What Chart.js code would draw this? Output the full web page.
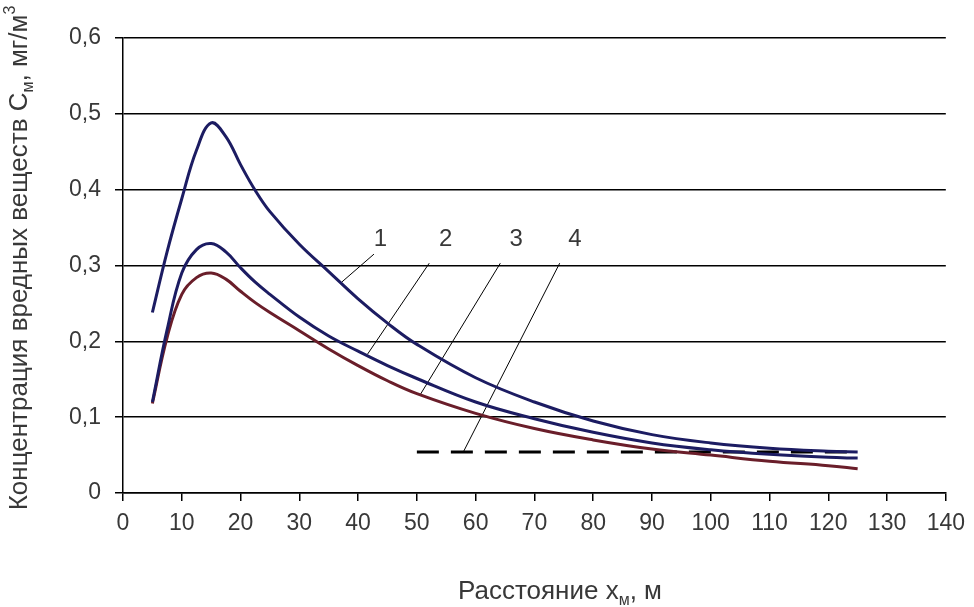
<!DOCTYPE html>
<html>
<head>
<meta charset="utf-8">
<script src="https://cdn.jsdelivr.net/npm/chart.js@4/dist/chart.umd.min.js"></script>
<style>
  html, body { margin: 0; padding: 0; background: #ffffff; }
  #wrap { width: 974px; height: 607px; }
</style>
</head>
<body>
<div id="wrap"><canvas id="chart" width="974" height="607"></canvas></div>
<script>
// Distance from the source, m
const distances = [5, 7.5, 10, 12.5, 15, 17.5, 20, 22.5, 25, 30, 35, 40, 45, 50, 60, 70, 80, 90, 100, 110, 120, 125];
// Concentration curves, mg/m3
const curve1 = [0.238, 0.318, 0.388, 0.452, 0.488, 0.470, 0.433, 0.399, 0.371, 0.328, 0.292, 0.256, 0.224, 0.196, 0.152, 0.120, 0.095, 0.077, 0.066, 0.059, 0.055, 0.054];
const curve2 = [0.120, 0.215, 0.290, 0.321, 0.329, 0.318, 0.297, 0.278, 0.262, 0.232, 0.207, 0.187, 0.168, 0.151, 0.120, 0.098, 0.080, 0.066, 0.057, 0.051, 0.047, 0.046];
const curve3 = [0.118, 0.205, 0.262, 0.284, 0.290, 0.282, 0.266, 0.251, 0.238, 0.214, 0.190, 0.168, 0.148, 0.131, 0.105, 0.085, 0.070, 0.058, 0.050, 0.042, 0.036, 0.032];
// Limit level (line 4)
const limitLevel = 0.054;
const limitRange = [50, 125];

// Axis ticks
const xTicks = [0, 10, 20, 30, 40, 50, 60, 70, 80, 90, 100, 110, 120, 130, 140];
const yTicks = [0, 0.1, 0.2, 0.3, 0.4, 0.5, 0.6];

// Curve callouts: label text, label anchor, leader line start and end (data units)
const calloutText = ['1', '2', '3', '4'];
const calloutX = [43.8, 54.9, 66.9, 76.9];
const calloutY = [0.334, 0.334, 0.334, 0.334];
const leaderFromX = [42.7, 52.1, 64.2, 74.3];
const leaderFromY = [0.315, 0.303, 0.303, 0.303];
const leaderToX = [37.2, 41.6, 50.6, 57.9];
const leaderToY = [0.278, 0.183, 0.130, 0.054];

const toPoints = (xs, ys) => xs.map((x, i) => ({ x: x, y: ys[i] }));

const navy = '#1c1c62';
const maroon = '#6a1e2a';
const FONT = '"Liberation Sans", Arial, sans-serif';
const TEXT = '#383838';

const datasets = [
  { data: toPoints(distances, curve1), borderColor: navy, borderWidth: 3, tension: 0.4 },
  { data: toPoints(distances, curve2), borderColor: navy, borderWidth: 3, tension: 0.4 },
  { data: toPoints(distances, curve3), borderColor: maroon, borderWidth: 3, tension: 0.4 },
  { data: limitRange.map(x => ({ x: x, y: limitLevel })), borderColor: '#000', borderWidth: 3, borderDash: [22, 12] }
];
calloutText.forEach((t, i) => {
  datasets.push({
    data: [{ x: leaderFromX[i], y: leaderFromY[i] }, { x: leaderToX[i], y: leaderToY[i] }],
    borderColor: '#000', borderWidth: 1
  });
});

// Draws text made of runs, with subscript/superscript runs, centred at (cx, cy)
function drawRuns(ctx, runs, cx, cy, size) {
  const small = Math.round(size * 0.62);
  let total = 0;
  runs.forEach(r => {
    ctx.font = (r.sub || r.sup ? small : size) + 'px ' + FONT;
    r.w = ctx.measureText(r.t).width;
    total += r.w;
  });
  let x = cx - total / 2;
  ctx.textAlign = 'left';
  ctx.textBaseline = 'middle';
  runs.forEach(r => {
    ctx.font = (r.sub || r.sup ? small : size) + 'px ' + FONT;
    const dy = r.sub ? size * 0.32 : (r.sup ? -size * 0.38 : 0);
    ctx.fillText(r.t, x, cy + dy);
    x += r.w;
  });
}

const textPlugin = {
  id: 'chartText',
  afterDraw(chart) {
    const ctx = chart.ctx;
    const xs = chart.scales.x, ys = chart.scales.y;
    ctx.save();
    ctx.fillStyle = TEXT;
    // callout numbers
    ctx.font = '24px ' + FONT;
    ctx.textAlign = 'center';
    ctx.textBaseline = 'middle';
    calloutText.forEach((t, i) => {
      ctx.fillText(t, xs.getPixelForValue(calloutX[i]), ys.getPixelForValue(calloutY[i]));
    });
    // x axis title
    drawRuns(ctx, [{ t: 'Расстояние x' }, { t: 'м', sub: true }, { t: ', м' }], 560, 592, 26);
    // y axis title
    ctx.translate(20, 258);
    ctx.rotate(-Math.PI / 2);
    drawRuns(ctx, [{ t: 'Концентрация вредных веществ С' }, { t: 'м', sub: true }, { t: ', мг/м' }, { t: '3', sup: true }], 0, 0, 26);
    ctx.restore();
  }
};

new Chart(document.getElementById('chart'), {
  type: 'line',
  data: { datasets: datasets },
  options: {
    responsive: false,
    animation: false,
    events: [],
    layout: { padding: { left: 0, right: 24, top: 38, bottom: 0 } },
    elements: { point: { radius: 0 }, line: { fill: false } },
    plugins: { legend: { display: false }, tooltip: { enabled: false } },
    scales: {
      x: {
        type: 'linear',
        min: 0, max: 140,
        afterFit: s => { s.height = 114; },
        afterBuildTicks: s => { s.ticks = xTicks.map(v => ({ value: v })); },
        grid: { drawOnChartArea: false, drawTicks: true, tickLength: 8, color: '#000', lineWidth: 1.5 },
        border: { display: true, color: '#000', width: 1.5 },
        ticks: { color: TEXT, font: { family: FONT, size: 23 }, padding: 9, maxRotation: 0, autoSkip: false }
      },
      y: {
        type: 'linear',
        min: 0, max: 0.6,
        afterFit: s => { s.width = 123; },
        afterBuildTicks: s => { s.ticks = yTicks.map(v => ({ value: v })); },
        grid: { drawOnChartArea: true, drawTicks: true, tickLength: 8, color: '#000', lineWidth: 1.5 },
        border: { display: true, color: '#000', width: 1.5 },
        ticks: {
          color: TEXT, font: { family: FONT, size: 23 }, padding: 14, autoSkip: false,
          callback: v => (v === 0 ? '0' : v.toFixed(1).replace('.', ','))
        }
      }
    }
  },
  plugins: [textPlugin]
});
</script>
</body>
</html>
